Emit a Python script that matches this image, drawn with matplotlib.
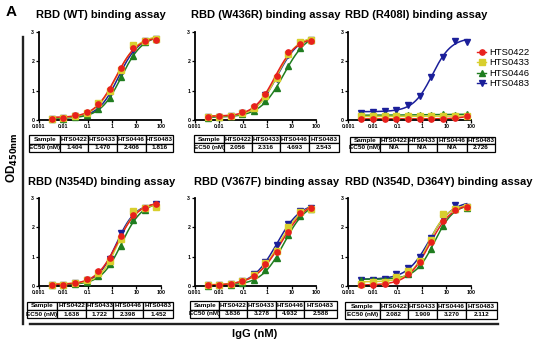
import numpy as np
import matplotlib
matplotlib.use('Agg')
import matplotlib.pyplot as plt
from matplotlib.lines import Line2D

plt.rcParams['font.family'] = ['Liberation Sans', 'DejaVu Sans']

# IgG concentration (nM), 3-fold dilution series
conc = [0.00339, 0.0102, 0.0305, 0.0914, 0.274, 0.823, 2.47, 7.41, 22.2, 66.7]

samples = ['HTS0422', 'HTS0433', 'HTS0446', 'HTS0483']
colors = ['#e8201c', '#d8cf2e', '#1f7d1f', '#1b1f9a']
markers = ['o', 's', '^', 'v']

titles = ['RBD (WT) binding assay', 'RBD (W436R) binding assay',
          'RBD (R408I) binding assay', 'RBD (N354D) binding assay',
          'RBD (V367F) binding assay', 'RBD (N354D, D364Y) binding assay']

# OD450 readings, one row per sample (HTS0422, HTS0433, HTS0446, HTS0483)
od_wt = [[0.05, 0.07, 0.18, 0.28, 0.55, 1.05, 1.78, 2.45, 2.68, 2.72],
         [0.04, 0.06, 0.14, 0.25, 0.58, 1.00, 1.70, 2.55, 2.70, 2.75],
         [0.03, 0.05, 0.10, 0.17, 0.38, 0.75, 1.45, 2.18, 2.65, 2.75],
         [0.04, 0.06, 0.12, 0.20, 0.45, 0.90, 1.60, 2.38, 2.68, 2.75]]
od_w436r = [[0.10, 0.12, 0.15, 0.28, 0.48, 0.90, 1.48, 2.32, 2.58, 2.68],
            [0.10, 0.11, 0.14, 0.25, 0.42, 0.82, 1.42, 2.25, 2.65, 2.72],
            [0.08, 0.09, 0.12, 0.20, 0.32, 0.65, 1.08, 1.82, 2.45, 2.72],
            [0.10, 0.11, 0.13, 0.24, 0.42, 0.85, 1.38, 2.20, 2.62, 2.72]]
od_r408i = [[0.03, 0.03, 0.04, 0.04, 0.04, 0.04, 0.05, 0.05, 0.06, 0.12],
            [0.12, 0.12, 0.12, 0.12, 0.12, 0.13, 0.13, 0.13, 0.13, 0.14],
            [0.16, 0.17, 0.16, 0.17, 0.17, 0.18, 0.18, 0.19, 0.18, 0.20],
            [0.25, 0.27, 0.30, 0.35, 0.50, 0.83, 1.45, 2.15, 2.70, 2.65]]
od_n354d = [[0.02, 0.05, 0.10, 0.23, 0.50, 0.95, 1.70, 2.42, 2.65, 2.78],
            [0.02, 0.04, 0.09, 0.20, 0.45, 0.85, 1.58, 2.55, 2.65, 2.68],
            [0.02, 0.03, 0.07, 0.14, 0.33, 0.75, 1.35, 2.25, 2.58, 2.75],
            [0.02, 0.04, 0.09, 0.20, 0.45, 0.92, 1.80, 2.45, 2.65, 2.78]]
od_v367f = [[0.02, 0.03, 0.06, 0.18, 0.35, 0.75, 1.15, 1.85, 2.48, 2.65],
            [0.05, 0.04, 0.06, 0.16, 0.38, 0.78, 1.18, 2.00, 2.52, 2.62],
            [0.01, 0.02, 0.04, 0.10, 0.22, 0.55, 0.95, 1.72, 2.38, 2.60],
            [0.02, 0.03, 0.06, 0.18, 0.40, 0.82, 1.38, 2.10, 2.55, 2.65]]
od_dbl = [[0.02, 0.03, 0.08, 0.18, 0.40, 0.82, 1.50, 2.20, 2.58, 2.68],
          [0.08, 0.12, 0.15, 0.30, 0.50, 0.85, 1.55, 2.45, 2.60, 2.68],
          [0.20, 0.22, 0.22, 0.30, 0.42, 0.70, 1.25, 2.05, 2.60, 2.65],
          [0.20, 0.22, 0.25, 0.42, 0.60, 1.00, 1.62, 2.32, 2.75, 2.70]]
od_all = [od_wt, od_w436r, od_r408i, od_n354d, od_v367f, od_dbl]

ec50_wt = ['1.404', '1.470', '2.406', '1.816']
ec50_w436r = ['2.056', '2.316', '4.693', '2.543']
ec50_r408i = ['N/A', 'N/A', 'N/A', '2.726']
ec50_n354d = ['1.638', '1.722', '2.398', '1.452']
ec50_v367f = ['3.836', '3.278', '4.932', '2.588']
ec50_dbl = ['2.082', '1.909', '3.270', '2.112']
ec50_all = [ec50_wt, ec50_w436r, ec50_r408i, ec50_n354d, ec50_v367f, ec50_dbl]

W, H = 539, 341
fig = plt.figure(figsize=(W / 100, H / 100), dpi=100)


def box(l, t, r, b):
    return [l / W, 1 - b / H, (r - l) / W, (b - t) / H]


def fit_4pl(x, y):
    # grid search over logEC50 / hill, bottom & top by linear least squares
    lx = np.log10(np.asarray(x))
    y = np.asarray(y)
    le, hh = np.meshgrid(np.arange(-2.5, 2.5, 0.01), np.arange(0.4, 3.0, 0.04))
    le, hh = le.ravel(), hh.ravel()
    s = 1 / (1 + 10 ** ((le[:, None] - lx[None, :]) * hh[:, None]))
    u, v = 1 - s, s
    uu, vv, uv = (u * u).sum(1), (v * v).sum(1), (u * v).sum(1)
    uy, vy = (u * y).sum(1), (v * y).sum(1)
    det = uu * vv - uv ** 2 + 1e-12
    b = (vv * uy - uv * vy) / det
    t = (uu * vy - uv * uy) / det
    res = ((y[None, :] - b[:, None] * u - t[:, None] * v) ** 2).sum(1)
    res[(t > 4) | (b < -0.5)] = np.inf
    i = np.argmin(res)
    return b[i], t[i], le[i], hh[i]


def curve(xs, p):
    b, t, le, h = p
    return b + (t - b) / (1 + 10 ** ((le - np.log10(xs)) * h))


ax_boxes = [(38.7, 31.7, 160.7, 120), (194.7, 31.7, 315.7, 120), (348, 31.7, 471, 120),
            (38.7, 197.7, 160.7, 286), (194.7, 197.7, 315.7, 286), (348, 197.7, 471, 286)]
tab_edges = [([29.3, 60, 88.3, 116.7, 145.7, 173.3], 135, 152),
             ([194, 224.3, 251.7, 280, 309, 339.3], 135, 151.7),
             ([350, 380, 407.7, 436.7, 466.7, 495], 136.7, 151.7),
             ([26.7, 57.3, 86, 113.3, 143.3, 173.3], 301.7, 318.3),
             ([190, 219.3, 247.3, 275.7, 304.3, 336.7], 301, 318),
             ([345, 380, 407.7, 436.7, 466, 496.7], 301.7, 319)]
title_pos = [(101, 15), (266, 15), (416, 15), (102, 182), (267, 182), (439, 182)]

xs = np.logspace(np.log10(conc[0]), np.log10(conc[-1]), 200)
legend_handles = None

for k in range(6):
    ax = fig.add_axes(box(*ax_boxes[k]))
    handles = []
    for j in [3, 2, 1, 0]:
        y = od_all[k][j]
        p = fit_4pl(conc, y)
        ax.plot(xs, curve(xs, p), color=colors[j], lw=1.1, clip_on=False)
        ax.plot(conc, y, ls='none', marker=markers[j], color=colors[j], ms=3.8,
                mec=colors[j], clip_on=False, zorder=3)
        handles.append(Line2D([], [], color=colors[j], lw=1.0, marker=markers[j], ms=3.8))
    if k == 2:
        legend_handles = handles[::-1]
    ax.set_xscale('log')
    ax.set_xlim(0.001, 100)
    ax.set_ylim(0, 3)
    ax.set_xticks([0.001, 0.01, 0.1, 1, 10, 100])
    ax.set_xticklabels(['0.001', '0.01', '0.1', '1', '10', '100'])
    ax.minorticks_off()
    ax.set_yticks([0, 1, 2, 3])
    for sp in ['top', 'right']:
        ax.spines[sp].set_visible(False)
    for sp in ['left', 'bottom']:
        ax.spines[sp].set_linewidth(1.3)
    ax.tick_params(length=2, width=0.9, pad=1.2, labelsize=3.8)
    for lab in ax.get_xticklabels() + ax.get_yticklabels():
        lab.set_fontweight('bold')

    fig.text(title_pos[k][0] / W, 1 - title_pos[k][1] / H, titles[k],
             ha='center', va='center', fontsize=8.0, fontweight='bold')

    edges, tt, tb = tab_edges[k]
    tax = fig.add_axes(box(edges[0], tt, edges[-1], tb))
    tax.axis('off')
    widths = np.diff(edges) / (edges[-1] - edges[0])
    tbl = tax.table(cellText=[['Sample'] + samples, ['EC50 (nM)'] + ec50_all[k]],
                    colWidths=list(widths), bbox=[0, 0, 1, 1], cellLoc='center')
    tbl.auto_set_font_size(False)
    for cell in tbl.get_celld().values():
        cell.set_linewidth(0.9)
        cell.get_text().set_fontsize(4.6)
        cell.get_text().set_fontweight('bold')
        cell.PAD = 0.02

fig.axes[4].legend(legend_handles, samples, loc='upper left',
                   bbox_to_anchor=(477 / W, 1 - 48 / H), bbox_transform=fig.transFigure,
                   frameon=False, fontsize=6.8, handlelength=1.0, handletextpad=0.35,
                   labelspacing=0.15, borderpad=0, borderaxespad=0)

# panel letter, shared axis labels and frame lines
fig.text(6 / W, 1 - 12 / H, 'A', fontsize=11, fontweight='bold', va='center')
fig.text(12 / W, 1 - 158 / H, r'OD$_{\mathbf{450nm}}$', rotation=90, fontsize=8.5,
         fontweight='bold', ha='center', va='center')
fig.add_artist(Line2D([23 / W, 23 / W], [1 - 37 / H, 1 - 324 / H], color='#222222', lw=1.7))
fig.add_artist(Line2D([30 / W, 498 / W], [1 - 324 / H, 1 - 324 / H], color='#222222', lw=1.7))
fig.text(255 / W, 1 - 334 / H, 'IgG (nM)', fontsize=8, fontweight='bold',
         ha='center', va='center')

fig.savefig('out.png', dpi=100)
